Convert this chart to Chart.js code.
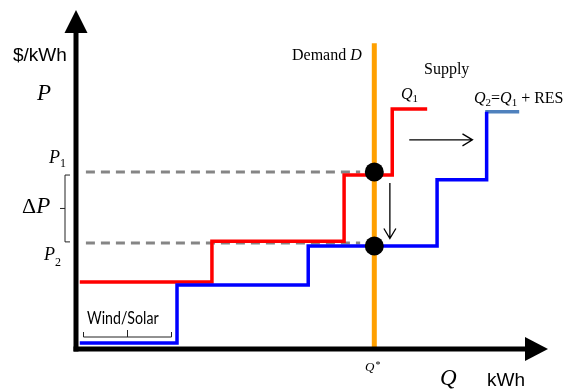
<!DOCTYPE html>
<html><head><meta charset="utf-8">
<script src="https://cdn.jsdelivr.net/npm/chart.js@4.4.1/dist/chart.umd.min.js"></script>
<style>html,body{margin:0;padding:0;background:#fff;}#wrap{width:563px;height:390px;}</style>
</head><body><div id="wrap"><canvas id="c" width="563" height="390"></canvas></div>
<script>
// ---- data (abstract units: Q and P on 0..100 axes) ----
const supplyQ1Edges = [0.8, 28.8, 56.8, 67.0, 74.4];   // step edges of original supply Q1
const supplyQ1Levels = [19.8, 31.8, 51.3, 70.8];       // price levels of Q1
const supplyQ2Edges = [0.8, 21.4, 49.2, 76.5, 87.0];   // step edges of Q2 = Q1 + RES
const supplyQ2Levels = [1.8, 18.9, 30.4, 49.9, 70.0];  // price levels of Q2
const resCapQ = [86.7, 93.9];                          // top cap of Q2 curve
const resCapP = 70.0;
const demandQ = 63.2;                                  // Q*
const demandTop = 90.2;
const equilibriumP = [52.2, 30.4];                     // P1, P2 (dots)
const priceGuideP = [52.2, 31.3];                      // dashed guides P1, P2
const guideQ = [2.1, 60.2];
const axisMax = 100;

function stepPoints(edges, levels) {
  const pts = [];
  for (let i = 0; i < levels.length; i++) {
    pts.push({x: edges[i], y: levels[i]});
    if (i + 1 < edges.length) pts.push({x: edges[i + 1], y: levels[i]});
  }
  return pts;
}

const SERIF = "'Liberation Serif','DejaVu Serif',serif";
const SANS = "'Liberation Sans',Arial,sans-serif";

const decor = {
  id: 'decor',
  afterDraw(chart) {
    const ctx = chart.ctx;
    const X = v => chart.scales.x.getPixelForValue(v);
    const Y = v => chart.scales.y.getPixelForValue(v);
    const x0 = X(0), y0 = Y(0), xT = X(axisMax), yT = Y(axisMax);
    ctx.save();
    // axes
    ctx.strokeStyle = '#000'; ctx.fillStyle = '#000'; ctx.lineWidth = 5; ctx.lineCap = 'butt';
    ctx.beginPath(); ctx.moveTo(x0, y0 + 2.5); ctx.lineTo(x0, yT + 20); ctx.stroke();
    ctx.beginPath(); ctx.moveTo(x0 - 2.5, y0); ctx.lineTo(xT - 20, y0); ctx.stroke();
    ctx.beginPath(); ctx.moveTo(x0, yT); ctx.lineTo(x0 - 11.5, yT + 23); ctx.lineTo(x0 + 11.5, yT + 23); ctx.closePath(); ctx.fill();
    ctx.beginPath(); ctx.moveTo(xT, y0); ctx.lineTo(xT - 23, y0 - 12); ctx.lineTo(xT - 23, y0 + 12); ctx.closePath(); ctx.fill();

    // arrows
    ctx.lineWidth = 1.3;
    const ay = Y(61.7), ax1 = X(70.6), ax2 = X(84.0);
    ctx.beginPath(); ctx.moveTo(ax1, ay); ctx.lineTo(ax2, ay);
    ctx.moveTo(ax2 - 10, ay - 6); ctx.lineTo(ax2, ay); ctx.lineTo(ax2 - 10, ay + 6); ctx.stroke();
    const dx = X(66.5), dy1 = Y(49.0), dy2 = Y(32.6);
    ctx.beginPath(); ctx.moveTo(dx, dy1); ctx.lineTo(dx, dy2);
    ctx.moveTo(dx - 6, dy2 - 10); ctx.lineTo(dx, dy2); ctx.lineTo(dx + 6, dy2 - 10); ctx.stroke();

    // braces
    ctx.lineWidth = 1; ctx.strokeStyle = '#222';
    const bt = Y(priceGuideP[0]) + 3, bb = Y(priceGuideP[1]) - 1, bm = (bt + bb) / 2;
    ctx.beginPath(); ctx.moveTo(70, bt); ctx.lineTo(65, bt); ctx.lineTo(65, bb); ctx.lineTo(70, bb);
    ctx.moveTo(65, bm); ctx.lineTo(60, bm); ctx.stroke();
    ctx.beginPath(); ctx.moveTo(83.5, 332); ctx.lineTo(83.5, 337); ctx.lineTo(171.5, 337); ctx.lineTo(171.5, 332);
    ctx.moveTo(127.5, 337); ctx.lineTo(127.5, 330); ctx.stroke();

    // texts
    ctx.fillStyle = '#000'; ctx.textBaseline = 'alphabetic'; ctx.textAlign = 'left';
    const t = (s, x, y, f) => { ctx.font = f; ctx.fillText(s, x, y); return x + ctx.measureText(s).width; };
    t('$/kWh', 13, 61, '19px ' + SANS);
    t('P', 37, 100, 'italic 23px ' + SERIF);
    let e = t('P', 49, 163, 'italic 18px ' + SERIF); t('1', e, 167, '12px ' + SERIF);
    e = t('Δ', 22, 213, '22px ' + SERIF); t('P', e, 213, 'italic 23px ' + SERIF);
    e = t('P', 44, 260, 'italic 18px ' + SERIF); t('2', e, 266, '12px ' + SERIF);
    // Calibri-like narrow label: Lato, compressed horizontally
    ctx.save(); ctx.translate(87, 324); ctx.scale(0.86, 1);
    t('Wind/Solar', 0, 0, '16.5px Lato, "Open Sans", sans-serif'); ctx.restore();
    e = t('Demand ', 292, 60, '16px ' + SERIF); t('D', e, 60, 'italic 16px ' + SERIF);
    t('Supply', 424, 74, '16px ' + SERIF);
    e = t('Q', 401, 99, 'italic 16px ' + SERIF); t('1', e, 102, '11px ' + SERIF);
    e = t('Q', 474, 103, 'italic 16px ' + SERIF); e = t('2', e, 106, '11px ' + SERIF);
    e = t('=', e, 103, '16px ' + SERIF); e = t('Q', e, 103, 'italic 16px ' + SERIF);
    e = t('1', e, 106, '11px ' + SERIF); t(' + RES', e, 103, '16px ' + SERIF);
    e = t('Q', 365, 371, 'italic 13px ' + SERIF); t('*', e + 1, 368, '10px ' + SERIF);
    t('Q', 440, 385, 'italic 23px ' + SERIF);
    t('kWh', 487, 386, '19px ' + SANS);
    ctx.restore();
  }
};

const line = (data, color, width, order, extra) => Object.assign({
  type: 'line', data, borderColor: color, backgroundColor: color, borderWidth: width,
  pointRadius: 0, tension: 0, fill: false, order, clip: false,
  borderCapStyle: 'butt', borderJoinStyle: 'miter'
}, extra || {});

new Chart(document.getElementById('c'), {
  type: 'line',
  data: {
    datasets: [
      line([{x: guideQ[0], y: priceGuideP[0]}, {x: guideQ[1], y: priceGuideP[0]}], '#858585', 3, 6, {borderDash: [9, 6]}),
      line([{x: guideQ[0], y: priceGuideP[1]}, {x: guideQ[1], y: priceGuideP[1]}], '#858585', 3, 6, {borderDash: [9, 6]}),
      line(stepPoints(supplyQ1Edges, supplyQ1Levels), '#ff0000', 3.5, 4),
      line(stepPoints(supplyQ2Edges, supplyQ2Levels), '#0000ff', 3.5, 3),
      line([{x: resCapQ[0], y: resCapP}, {x: resCapQ[1], y: resCapP}], '#4f81bd', 3.5, 3),
      line([{x: demandQ, y: 0}, {x: demandQ, y: demandTop}], '#ffa000', 5, 1),
      {type: 'scatter', data: equilibriumP.map(p => ({x: demandQ, y: p})), pointRadius: 9.5,
       pointBackgroundColor: '#000', pointBorderWidth: 0, showLine: false, order: 0, clip: false}
    ]
  },
  options: {
    responsive: false, animation: false, events: [],
    layout: {padding: {left: 76, right: 15, top: 10, bottom: 41}},
    plugins: {legend: {display: false}, tooltip: {enabled: false}},
    scales: {
      x: {type: 'linear', min: 0, max: axisMax, display: false},
      y: {type: 'linear', min: 0, max: axisMax, display: false}
    }
  },
  plugins: [decor]
});
</script></body></html>
